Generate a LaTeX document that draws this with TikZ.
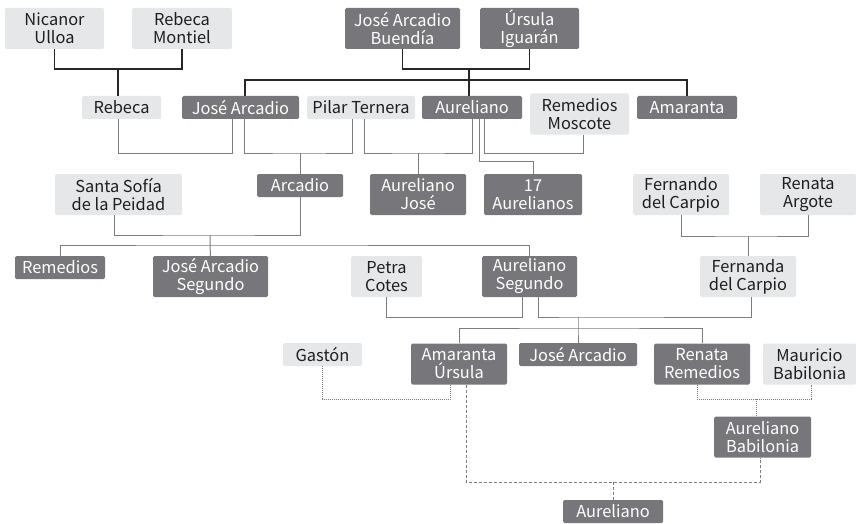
\documentclass[tikz,border=0pt]{standalone}
\usepackage{fontspec}
\setmainfont{Noto Sans CJK SC}
\definecolor{boxdark}{RGB}{119,119,123}
\definecolor{boxlight}{RGB}{230,231,233}
\definecolor{linegray}{RGB}{125,125,127}
\definecolor{textdark}{RGB}{30,30,30}
\tikzset{
	box/.style={rounded corners=1.5pt,inner sep=0pt,align=center,minimum height=23pt,font=\fontsize{16.4}{18}\selectfont},
	two/.style={minimum height=41pt},
	dark/.style={box,fill=boxdark,text=white},
	light/.style={box,fill=boxlight,text=textdark},
	founder/.style={line width=1.3pt,black!85},
	kin/.style={line width=1pt,linegray},
	affair/.style={line width=0.9pt,linegray,dash pattern=on 1pt off 1pt},
	incest/.style={line width=0.9pt,linegray,dash pattern=on 3pt off 2pt}
}
\begin{document}
\begin{tikzpicture}[x=1pt,y=-1pt]
	\useasboundingbox (0,0) rectangle (856,524);
	% first generation
	\node[light,two,minimum width=99pt] (nu) at (54.5,28.5) {Nicanor\\Ulloa};
	\node[light,two,minimum width=100pt] (rm) at (182,28.5) {Rebeca\\Montiel};
	\node[dark,two,minimum width=115pt] (jab) at (402.5,28.5) {José Arcadio\\Buendía};
	\node[dark,two,minimum width=99pt] (ui) at (529.5,28.5) {Úrsula\\Iguarán};
	% second generation
	\node[light,minimum width=79pt] (reb) at (121.5,107.5) {Rebeca};
	\node[dark,minimum width=117pt] (ja) at (240.5,107.5) {José Arcadio};
	\node[light,minimum width=108pt] (pt) at (361,107.5) {Pilar Ternera};
	\node[dark,minimum width=100pt] (aur) at (472,107.5) {Aureliano};
	\node[light,two,minimum width=99pt] (rmo) at (579.5,114) {Remedios\\Moscote};
	\node[dark,minimum width=100pt] (ama) at (687,107.5) {Amaranta};
	% third generation
	\node[light,two,minimum width=127pt] (ssp) at (118.5,194.5) {Santa Sofía\\de la Peidad};
	\node[dark,minimum width=86pt] (arc) at (300,185.5) {Arcadio};
	\node[dark,two,minimum width=96pt] (aj) at (418,194.5) {Aureliano\\José};
	\node[dark,two,minimum width=98pt] (a17) at (533,194.5) {17\\Aurelianos};
	\node[light,two,minimum width=96pt] (fc) at (681,194.5) {Fernando\\del Carpio};
	\node[light,two,minimum width=96pt] (ra) at (808,194.5) {Renata\\Argote};
	% fourth generation
	\node[dark,minimum width=90pt] (rem) at (60,267.5) {Remedios};
	\node[dark,two,minimum width=115pt] (jas) at (210.5,276.5) {José Arcadio\\Segundo};
	\node[light,two,minimum width=71pt] (pc) at (386.5,276.5) {Petra\\Cotes};
	\node[dark,two,minimum width=95pt] (as) at (529.5,276.5) {Aureliano\\Segundo};
	\node[light,two,minimum width=96pt] (fdc) at (748,276.5) {Fernanda\\del Carpio};
	% fifth generation
	\node[light,minimum width=79pt] (gas) at (322.5,354.5) {Gastón};
	\node[dark,two,minimum width=96pt] (au) at (459,364) {Amaranta\\Úrsula};
	\node[dark,minimum width=118pt] (ja2) at (578,354.5) {José Arcadio};
	\node[dark,two,minimum width=96pt] (rr) at (702,364) {Renata\\Remedios};
	\node[light,two,minimum width=93pt] (mb) at (809.5,364) {Mauricio\\Babilonia};
	\node[dark,two,minimum width=97pt] (ab) at (762.5,437) {Aureliano\\Babilonia};
	\node[dark,minimum width=100pt] (aur2) at (613,511.5) {Aureliano};
	% unions
	\coordinate (m1) at (118,69);
	\coordinate (m2) at (469,69);
	\coordinate (bar1) at (469,80);
	\coordinate (ujp) at (300,153);
	\coordinate (uap) at (418,153);
	\coordinate (usa) at (210,235);
	\coordinate (bar2) at (210,245);
	\coordinate (ufr) at (748,236);
	\coordinate (uaf) at (578,317);
	\coordinate (bar3) at (578,328);
	\coordinate (urm) at (756,399);
	\coordinate (uaa) at (613,482);
	\draw[founder] (nu.south) |- (m1) -| (rm.south);
	\draw[founder] (m1) -- (m1 |- reb.north);
	\draw[founder] (jab.south) |- (m2) -| (ui.south);
	\draw[founder] (m2) -- (bar1) -- (bar1 |- aur.north);
	\draw[founder] ([xshift=4.5pt]ja.north) |- (bar1) -| (ama.north);
	\draw[kin] ([xshift=-3.5pt]reb.south) -- ++(0,34) -| ([xshift=-8.5pt]ja.south);
	\draw[kin] ([xshift=3.5pt]ja.south) |- (ujp) -| ([xshift=-9pt]pt.south);
	\draw[kin] (ujp) -- (arc.north);
	\draw[kin] ([xshift=3pt]pt.south) |- (uap) -| (aur.south);
	\draw[kin] (uap) -- (aj.north);
	\draw[kin] ([xshift=12pt]aur.south) -- ++(0,34) -| ([xshift=3.5pt]rmo.south);
	\draw[kin] ([xshift=7pt]aur.south) -- ++(0,42) -| (a17.north);
	\draw[kin] ([xshift=-4.5pt]ssp.south) |- (usa) -| (arc.south);
	\draw[kin] (usa) -- (bar2) -- (jas.north);
	\draw[kin] (rem.north) |- (bar2) -| (as.north);
	\draw[kin] (fc.south) |- (ufr) -| (ra.south);
	\draw[kin] (ufr) -- (fdc.north);
	\draw[kin] (pc.south) -- ++(0,20) -| ([xshift=-7.5pt]as.south);
	\draw[kin] ([xshift=8.5pt]as.south) |- (uaf) -| ([xshift=3pt]fdc.south);
	\draw[kin] (uaf) -- (bar3) -- (ja2.north);
	\draw[kin] (au.north) |- (bar3) -| (rr.north);
	\draw[affair] (gas.south) -- ++(0,33) -| ([xshift=-9pt]au.south);
	\draw[affair] ([xshift=-5pt]rr.south) |- (urm) -| ([xshift=1.5pt]mb.south);
	\draw[affair] (urm) -- ([xshift=-6.5pt]ab.north);
	\draw[incest] ([xshift=7pt]au.south) |- (uaa) -| ([xshift=-2.5pt]ab.south);
	\draw[incest] (uaa) -- (aur2.north);
\end{tikzpicture}
\end{document}
